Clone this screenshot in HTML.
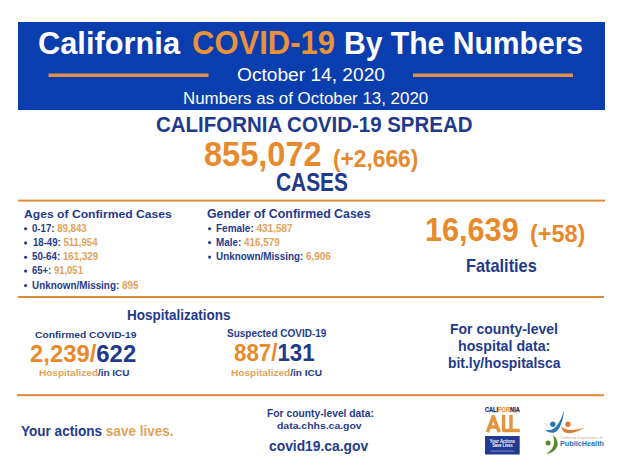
<!DOCTYPE html>
<html><head><meta charset="utf-8"><style>
*{margin:0;padding:0;box-sizing:border-box}
html,body{width:624px;height:467px;overflow:hidden;background:#fff}
body{position:relative;font-family:"Liberation Sans",sans-serif}
.t{position:absolute;white-space:nowrap;transform-origin:0 0}
.n{color:#1f3a8c} .o{color:#e8892b} .lo{color:#e4a258}
</style></head><body>
<svg width="624" height="467" style="position:absolute;left:0;top:0">
<rect x="18" y="22" width="587" height="88" fill="#0a3eae"/>
<rect x="48.5" y="73.5" width="160" height="3.5" fill="#e0914a"/>
<rect x="413" y="73.5" width="160" height="3.5" fill="#e0914a"/>
<rect x="18" y="199.6" width="587" height="2" fill="#e08b38"/>
<rect x="18" y="296" width="586" height="2" fill="#e08b38"/>
<rect x="17" y="394.2" width="587" height="2" fill="#e08b38"/>
<g fill="#1f3a8c">
<circle cx="25.6" cy="228.7" r="1.55"/>
<circle cx="25.6" cy="242.9" r="1.55"/>
<circle cx="25.6" cy="257.2" r="1.55"/>
<circle cx="25.6" cy="271.1" r="1.55"/>
<circle cx="25.6" cy="285.5" r="1.55"/>
<circle cx="209.6" cy="228.7" r="1.55"/>
<circle cx="209.6" cy="242.6" r="1.55"/>
<circle cx="209.6" cy="257.1" r="1.55"/>
</g>
<!-- California For All logo -->
<text x="484.9" y="411.7" font-family="'Liberation Sans', sans-serif" font-weight="700" font-size="7" textLength="34.9" lengthAdjust="spacingAndGlyphs" fill="#1f2a5c" stroke="#1f2a5c" stroke-width="0.25">CALI<tspan fill="#e8923a" stroke="#e8923a">FOR</tspan>NIA</text>
<g fill="none" stroke="#e3953e" stroke-width="3.4" stroke-linejoin="round">
<path d="M487.4 432.2 L493.3 416.4 L499.2 432.2 M489.6 427 L497 427"/>
<path d="M503.6 414.7 L503.6 430.5 L510.4 430.5"/>
<path d="M511 414.7 L511 430.5 L519.8 430.5"/>
</g>
<rect x="485" y="436" width="34.7" height="18.5" fill="#213b94"/>
<g font-family="'Liberation Sans', sans-serif" font-weight="700" fill="#fff" text-anchor="middle">
<text x="502.4" y="442.8" font-size="5.2" textLength="25.2" lengthAdjust="spacingAndGlyphs">Your Actions</text>
<text x="502.4" y="447.3" font-size="5.2" textLength="20.4" lengthAdjust="spacingAndGlyphs">Save Lives</text>
</g>
<rect x="490.4" y="450.5" width="24" height="1.2" fill="#6f7cb8"/>
<!-- CDPH logo -->
<circle cx="552.8" cy="424.2" r="2.7" fill="#2878b8"/>
<path d="M544.5 429.5 C548 432.5, 553 434.5, 557 431 C561 427, 563.5 418, 564 410.5 C561.5 419, 558 426, 553 429 C550 430.5, 547 430.5, 544.5 429.5 Z" fill="#2878b8"/><path d="M544.5 422.8 L549.5 428" stroke="#9cc3e0" stroke-width="0.7"/>
<circle cx="568" cy="424.2" r="2.7" fill="#e07a30"/>
<path d="M561.2 426 C561.8 431, 565 433.5, 570 433.2 C575 432.8, 580 430.5, 585 427.5 C580 429.2, 575 430.2, 570.5 430 C566 429.8, 563 428.5, 561.2 426 Z" fill="#e07a30"/>
<circle cx="548.1" cy="442.9" r="2.5" fill="#5a8a2a"/>
<path d="M553 435.5 C556.5 437.5, 558 441.5, 557.5 445.5 C556.5 450, 551.5 453, 546 454.5 C549.5 451.5, 553 448.5, 553.8 444.5 C554.5 441, 554 438, 553 435.5 Z" fill="#5a8a2a"/>
<text x="559.6" y="439" font-family="'Liberation Sans', sans-serif" font-size="3.2" textLength="42.7" lengthAdjust="spacingAndGlyphs" fill="#c9a98a">California Department of</text>
<text x="560" y="446.3" font-family="'Liberation Sans', sans-serif" font-weight="700" font-size="7.7" textLength="44" lengthAdjust="spacingAndGlyphs" fill="#2b72b6">PublicHealth</text>
</svg>

<div class="t" style="left:38.03px;top:28.11px;font-size:31.88px;line-height:31.88px;font-weight:700;color:#ffffff;transform:scaleX(0.9660)">California</div>
<div class="t" style="left:192.04px;top:27.04px;font-size:32.32px;line-height:32.32px;font-weight:700;color:#e8923a;transform:scaleX(0.9592)">COVID-19</div>
<div class="t" style="left:344.11px;top:28.11px;font-size:31.88px;line-height:31.88px;font-weight:700;color:#ffffff;transform:scaleX(0.9440)">By The Numbers</div>
<div class="t" style="left:237.00px;top:65.56px;font-size:18.12px;line-height:18.12px;font-weight:400;color:#ffffff;transform:scaleX(1.0572)">October 14, 2020</div>
<div class="t" style="left:182.94px;top:90.94px;font-size:16.01px;line-height:16.01px;font-weight:400;color:#ffffff;transform:scaleX(1.0563)">Numbers as of October 13, 2020</div>
<div class="t" style="left:155.62px;top:114.97px;font-size:21.30px;line-height:21.30px;font-weight:700;color:#1f3a8c;transform:scaleX(0.9610)">CALIFORNIA COVID-19 SPREAD</div>
<div class="t" style="left:204.43px;top:136.88px;font-size:34.64px;line-height:34.64px;font-weight:700;color:#e8892b;transform:scaleX(0.9404)">855,072</div>
<div class="t" style="left:333.20px;top:146.91px;font-size:24.20px;line-height:24.20px;font-weight:700;color:#e8892b;transform:scaleX(0.9402)">(+2,666)</div>
<div class="t" style="left:276.14px;top:169.90px;font-size:24.93px;line-height:24.93px;font-weight:700;color:#1f3a8c;transform:scaleX(0.8384)">CASES</div>
<div class="t" style="left:24.19px;top:207.56px;font-size:11.74px;line-height:11.74px;font-weight:700;color:#1f3a8c;transform:scaleX(1.0353)">Ages of Confirmed Cases</div>
<div class="t" style="left:32.00px;top:223.91px;font-size:10.14px;line-height:10.14px;font-weight:700;color:#1f3a8c;transform:scaleX(0.9513)">0-17: <span class="lo">89,843</span></div>
<div class="t" style="left:32.52px;top:238.11px;font-size:10.14px;line-height:10.14px;font-weight:700;color:#1f3a8c;transform:scaleX(0.9472)">18-49: <span class="lo">511,954</span></div>
<div class="t" style="left:32.00px;top:251.59px;font-size:10.29px;line-height:10.29px;font-weight:700;color:#1f3a8c;transform:scaleX(0.9487)">50-64: <span class="lo">161,329</span></div>
<div class="t" style="left:32.00px;top:266.07px;font-size:10.43px;line-height:10.43px;font-weight:700;color:#1f3a8c;transform:scaleX(0.9107)">65+: <span class="lo">91,051</span></div>
<div class="t" style="left:32.00px;top:279.64px;font-size:10.58px;line-height:10.58px;font-weight:700;color:#1f3a8c;transform:scaleX(0.9334)">Unknown/Missing: <span class="lo">895</span></div>
<div class="t" style="left:206.81px;top:207.59px;font-size:12.17px;line-height:12.17px;font-weight:700;color:#1f3a8c;transform:scaleX(1.0174)">Gender of Confirmed Cases</div>
<div class="t" style="left:216.21px;top:223.87px;font-size:10.43px;line-height:10.43px;font-weight:700;color:#1f3a8c;transform:scaleX(0.9576)">Female: <span class="lo">431,587</span></div>
<div class="t" style="left:216.21px;top:237.89px;font-size:10.29px;line-height:10.29px;font-weight:700;color:#1f3a8c;transform:scaleX(0.9607)">Male: <span class="lo">416,579</span></div>
<div class="t" style="left:216.21px;top:251.59px;font-size:10.29px;line-height:10.29px;font-weight:700;color:#1f3a8c;transform:scaleX(0.9614)">Unknown/Missing: <span class="lo">6,906</span></div>
<div class="t" style="left:425.31px;top:212.36px;font-size:34.13px;line-height:34.13px;font-weight:700;color:#e8892b;transform:scaleX(0.8973)">16,639</div>
<div class="t" style="left:529.57px;top:223.07px;font-size:23.19px;line-height:23.19px;font-weight:700;color:#e8892b;transform:scaleX(1.0116)">(+58)</div>
<div class="t" style="left:466.34px;top:256.60px;font-size:18.55px;line-height:18.55px;font-weight:700;color:#1f3a8c;transform:scaleX(0.8811)">Fatalities</div>
<div class="t" style="left:127.32px;top:308.03px;font-size:14.49px;line-height:14.49px;font-weight:700;color:#1f3a8c;transform:scaleX(0.9316)">Hospitalizations</div>
<div class="t" style="left:34.61px;top:329.96px;font-size:9.86px;line-height:9.86px;font-weight:700;color:#1f3a8c;transform:scaleX(1.0409)">Confirmed COVID-19</div>
<div class="t" style="left:30.42px;top:341.84px;font-size:24.64px;line-height:24.64px;font-weight:700;color:#1f3a8c;transform:scaleX(0.9689)"><span class="o">2,239/</span>622</div>
<div class="t" style="left:38.80px;top:368.16px;font-size:9.86px;line-height:9.86px;font-weight:700;color:#1f3a8c;transform:scaleX(1.0158)"><span class="lo">Hospitalized</span>/in ICU</div>
<div class="t" style="left:227.11px;top:327.92px;font-size:10.72px;line-height:10.72px;font-weight:700;color:#1f3a8c;transform:scaleX(0.9322)">Suspected COVID-19</div>
<div class="t" style="left:233.83px;top:342.00px;font-size:23.62px;line-height:23.62px;font-weight:700;color:#1f3a8c;transform:scaleX(0.9455)"><span class="o">887/</span>131</div>
<div class="t" style="left:231.20px;top:368.08px;font-size:9.71px;line-height:9.71px;font-weight:700;color:#1f3a8c;transform:scaleX(1.0364)"><span class="lo">Hospitalized</span>/in ICU</div>
<div class="t" style="left:450.49px;top:322.75px;font-size:13.77px;line-height:13.77px;font-weight:700;color:#1f3a8c;transform:scaleX(1.0153)">For county-level</div>
<div class="t" style="left:458.49px;top:339.10px;font-size:14.06px;line-height:14.06px;font-weight:700;color:#1f3a8c;transform:scaleX(1.0112)">hospital data:</div>
<div class="t" style="left:448.07px;top:355.76px;font-size:14.93px;line-height:14.93px;font-weight:700;color:#1f3a8c;transform:scaleX(0.9290)">bit.ly/hospitalsca</div>
<div class="t" style="left:21.00px;top:422.84px;font-size:15.07px;line-height:15.07px;font-weight:700;color:#1f3a8c;transform:scaleX(0.8994)">Your actions <span class="lo">save lives.</span></div>
<div class="t" style="left:266.69px;top:408.67px;font-size:10.43px;line-height:10.43px;font-weight:700;color:#1f3a8c;transform:scaleX(0.9871)">For county-level data:</div>
<div class="t" style="left:276.63px;top:421.16px;font-size:9.86px;line-height:9.86px;font-weight:700;color:#1f3a8c;transform:scaleX(1.0601)">data.chhs.ca.gov</div>
<div class="t" style="left:268.75px;top:439.10px;font-size:14.06px;line-height:14.06px;font-weight:700;color:#1f3a8c;transform:scaleX(0.9842)">covid19.ca.gov</div>
</body></html>
